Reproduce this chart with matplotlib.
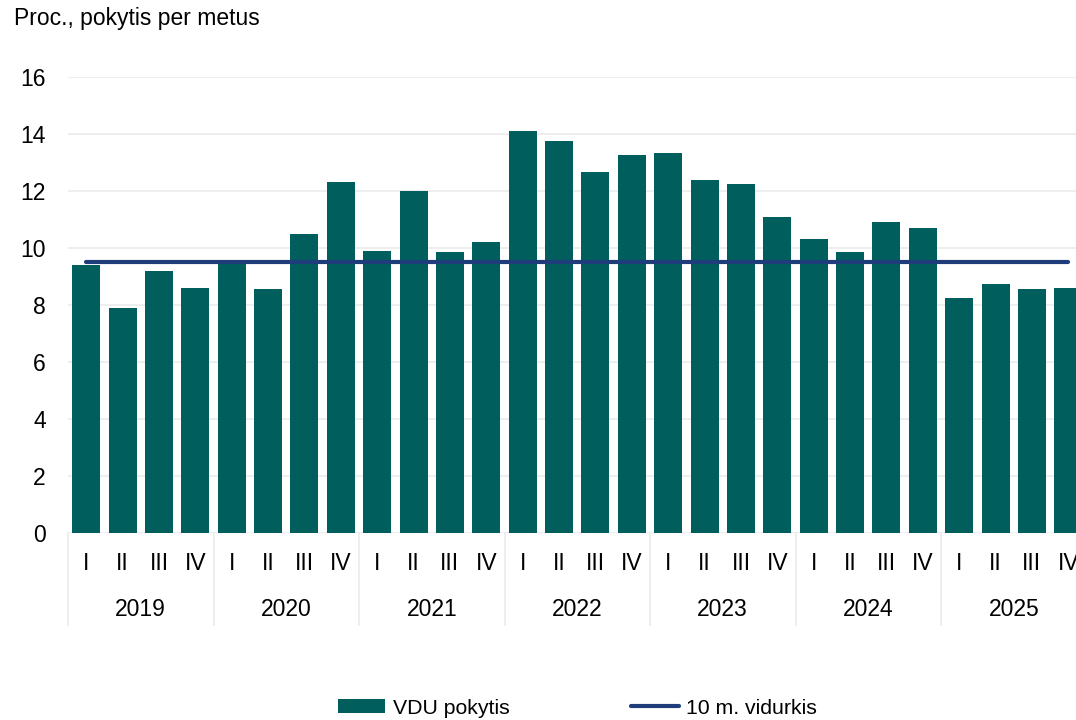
import matplotlib.pyplot as plt
import numpy as np

plt.rcParams['font.family'] = ['Liberation Sans', 'DejaVu Sans']

# ---------------- Data -----------------
years = ['2019', '2020', '2021', '2022', '2023', '2024', '2025']
quarters = ['I', 'II', 'III', 'IV']
vdu_change = [9.4, 7.9, 9.2, 8.6,
              9.5, 8.55, 10.5, 12.3,
              9.9, 12.0, 9.85, 10.2,
              14.1, 13.75, 12.65, 13.25,
              13.35, 12.4, 12.25, 11.1,
              10.3, 9.85, 10.9, 10.7,
              8.25, 8.75, 8.55, 8.6]
avg_10y = [9.5] * len(vdu_change)

bar_color = '#005F5C'
line_color = '#1F3D7A'
grid_color = '#EBEBEB'
fs = 16.5

# ---------------- Figure -----------------
fig = plt.figure(figsize=(10.76, 7.2), dpi=100)
ax = fig.add_axes([68 / 1076, (720 - 533) / 720, (1086.5 - 68) / 1076, 456 / 720])

x = np.arange(len(vdu_change))
bars = ax.bar(x, vdu_change, width=0.77, color=bar_color, zorder=2, label='VDU pokytis')
line, = ax.plot(x, avg_10y, color=line_color, lw=3, zorder=3, label='10 m. vidurkis',
                solid_capstyle='round')

ax.set_xlim(-0.5, len(vdu_change) - 0.5)
ax.set_ylim(0, 16)
ax.set_yticks(np.arange(0, 17, 2))
ax.yaxis.grid(True, color=grid_color, lw=1.2, zorder=0)
ax.set_axisbelow(True)
ax.tick_params(axis='y', length=0, labelsize=fs, pad=16)
ax.tick_params(axis='x', length=0, labelbottom=False)
for s in ax.spines.values():
    s.set_visible(False)

# category labels (quarters + years)
trans = ax.get_xaxis_transform()
for i in range(len(vdu_change)):
    ax.text(i, -30 / 456, quarters[i % 4], transform=trans, ha='center', va='center',
            fontsize=fs)
for j, yr in enumerate(years):
    ax.text(j * 4 + 1.5, -76 / 456, yr, transform=trans, ha='center', va='center',
            fontsize=fs)
for j in range(len(years) + 1):
    ax.plot([j * 4 - 0.5, j * 4 - 0.5], [0, -92 / 456], transform=trans,
            color=grid_color, lw=1.2, clip_on=False)

fig.text(14 / 1076, 1 - 18 / 720, 'Proc., pokytis per metus', ha='left', va='center',
         fontsize=fs)

ax.legend(handles=[bars, line], loc='center', bbox_to_anchor=(0.5, (12 - 187) / 456),
          ncol=2, frameon=False, fontsize=15.3, handlelength=2.25, handleheight=0.65,
          columnspacing=5.7, handletextpad=0.35)

fig.savefig('out.png', dpi=100)
